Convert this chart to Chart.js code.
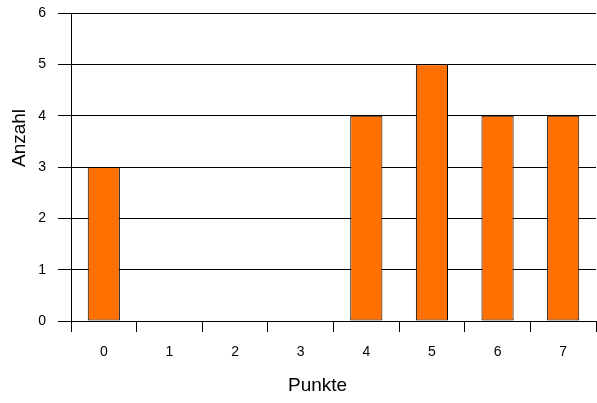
<!DOCTYPE html>
<html><head><meta charset="utf-8">
<script src="https://cdn.jsdelivr.net/npm/chart.js@4"></script>
<style>html,body{margin:0;padding:0;background:#fff}#w{width:597px;height:403px}</style>
</head><body><div id="w"><canvas id="c" width="597" height="403"></canvas></div>
<script>
const categories = ['0','1','2','3','4','5','6','7'];
const counts = [3, 0, 0, 0, 4, 5, 4, 4];
const yTicks = [0, 1, 2, 3, 4, 5, 6];
const xTitle = 'Punkte';
const yTitle = 'Anzahl';
const F = 'Liberation Sans, Arial, sans-serif';
const axisTitles = {
  id: 'axisTitles',
  afterDraw(chart) {
    const ctx = chart.ctx;
    ctx.save();
    ctx.fillStyle = '#000';
    ctx.font = '19px ' + F;
    ctx.textBaseline = 'alphabetic';
    ctx.textAlign = 'left';
    ctx.fillText(xTitle, 288, 391);
    ctx.translate(25, 167);
    ctx.rotate(-Math.PI / 2);
    ctx.fillText(yTitle, 0, 0);
    ctx.restore();
  }
};
new Chart(document.getElementById('c'), {
  type: 'bar',
  data: { labels: categories, datasets: [{ data: counts, backgroundColor: 'rgb(255,112,0)', borderColor: '#000', borderWidth: 1, borderSkipped: false, categoryPercentage: 1, barPercentage: 0.49 }] },
  options: {
    responsive: false, animation: false, devicePixelRatio: 1,
    layout: { padding: { left: 0, top: 13, right: 1, bottom: 0 } },
    plugins: { legend: { display: false }, tooltip: { enabled: false } },
    scales: {
      x: {
        offset: true,
        grid: { offset: true, drawOnChartArea: false, drawTicks: true, tickLength: 11, color: '#000' },
        border: { color: '#000' },
        ticks: { color: '#000', font: { family: F, size: 14 }, padding: 12, maxRotation: 0 },
        afterFit: s => { s.height = 82; s.paddingLeft = 0; s.paddingRight = 0; }
      },
      y: {
        min: 0, max: 6,
        afterBuildTicks: s => { s.ticks = yTicks.map(v => ({ value: v })); },
        grid: { color: '#000', tickLength: 13, drawTicks: true },
        border: { color: '#000' },
        ticks: { color: '#000', font: { family: F, size: 14 }, padding: 12 },
        afterFit: s => { s.width = 71; s.paddingTop = 0; s.paddingBottom = 0; }
      }
    }
  },
  plugins: [axisTitles]
});
</script></body></html>
